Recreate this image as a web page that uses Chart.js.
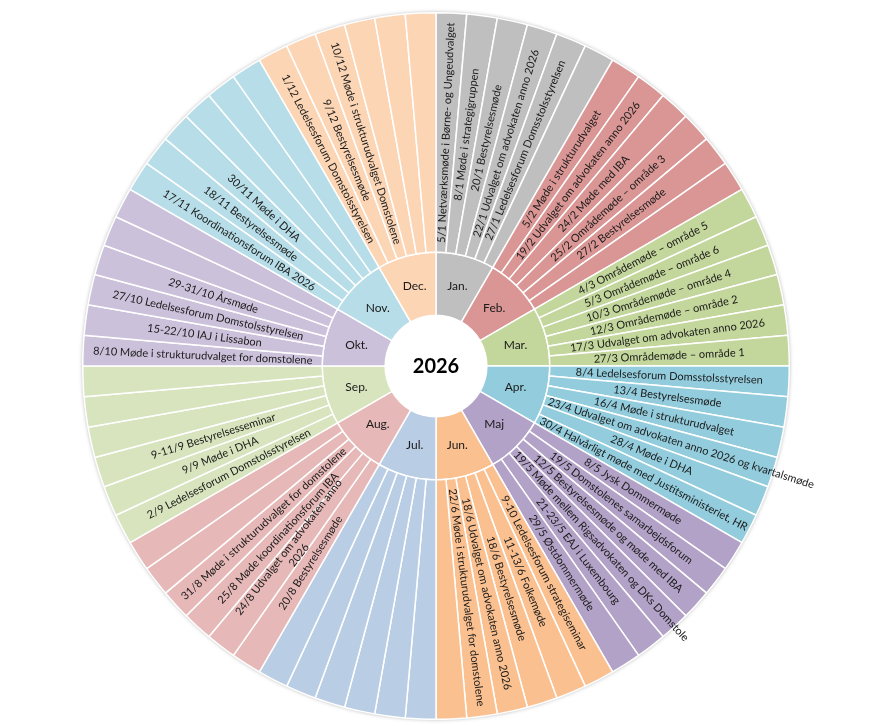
<!DOCTYPE html>
<html>
<head>
<meta charset="utf-8">
<script src="https://cdn.jsdelivr.net/npm/chart.js@4"></script>
<style>
  html, body { margin: 0; padding: 0; background: #fff; }
</style>
</head>
<body>
<canvas id="wheel" width="886" height="726"></canvas>
<script>
const year = '2026';
const months = ['Jan.', 'Feb.', 'Mar.', 'Apr.', 'Maj', 'Jun.', 'Jul.', 'Aug.', 'Sep.', 'Okt.', 'Nov.', 'Dec.'];
const monthColors = ['#bfbfbf', '#d99694', '#c3d69b', '#93cddd', '#b3a2c7', '#fac090',
                     '#b9cde5', '#e6b9b8', '#d7e4bd', '#ccc1da', '#b7dee8', '#fcd5b5'];

// six slots per month, empty string = empty slot
const jan = ['5/1 Netværksmøde i Børne- og Ungeudvalget', '8/1 Møde i strategigruppen', '20/1 Bestyrelsesmøde',
             '22/1 Udvalget om advokaten anno 2026', '27/1 Ledelsesforum Domsstolsstyrelsen', ''];
const feb = ['5/2 Møde i strukturudvalget', '19/2 Udvalget om advokaten anno 2026', '24/2 Møde med IBA',
             '25/2 Områdemøde – område 3', '27/2 Bestyrelsesmøde', ''];
const mar = ['4/3 Områdemøde – område 5', '5/3 Områdemøde – område 6', '10/3 Områdemøde – område 4',
             '12/3 Områdemøde – område 2', '17/3 Udvalget om advokaten anno 2026', '27/3 Områdemøde – område 1'];
const apr = ['8/4 Ledelsesforum Domsstolsstyrelsen', '13/4 Bestyrelsesmøde', '16/4 Møde i strukturudvalget',
             '23/4 Udvalget om advokaten anno 2026 og kvartalsmøde', '28/4 Møde i DHA',
             '30/4 Halvårligt møde med Justitsministeriet, HR'];
const maj = ['8/5 Jysk Dommermøde', '19/5 Domstolenes samarbejdsforum', '12/5 Bestyrelsesmøde og møde med IBA',
             '19/5 Møde mellem Rigsadvokaten og DKs Domstole', '21-23/5 EAJ i Luxembourg', '29/5 Østdommermøde'];
const jun = ['9-10 Ledelsesforum strategiseminar', '11-13/6 Folkemøde', '18/6 Bestyrelsesmøde',
             '18/6 Udvalget om advokaten anno 2026', '22/6 Møde i strukturudvalget for domstolene', ''];
const jul = ['', '', '', '', '', ''];
const aug = ['20/8 Bestyrelsesmøde', '24/8 Udvalget om advokaten anno\n2026', '25/8 Møde koordinationsforum IBA',
             '31/8 Møde i strukturudvalget for domstolene', '', ''];
const sep = ['2/9 Ledelsesforum Domstolsstyrelsen', '9/9 Møde i DHA', '9-11/9 Bestyrelsesseminar', '', '', ''];
const okt = ['8/10 Møde i strukturudvalget for domstolene', '15-22/10 IAJ i Lissabon',
             '27/10 Ledelsesforum Domstolsstyrelsen', '29-31/10 Årsmøde', '', ''];
const nov = ['17/11 Koordinationsforum IBA 2026', '18/11 Bestyrelsesmøde', '30/11 Møde i DHA', '', '', ''];
const dec = ['1/12 Ledelsesforum Domstolsstyrelsen', '9/12 Bestyrelsesmøde',
             '10/12 Møde i strukturudvalget Domstolene', '', '', ''];

const monthEvents = [jan, feb, mar, apr, maj, jun, jul, aug, sep, okt, nov, dec];
const events = monthEvents.flat();
const slotColors = monthEvents.flatMap((list, m) => list.map(() => monthColors[m]));
const slotsPerMonth = monthEvents.map(list => list.length);

const FONT = 'Lato, "Open Sans", sans-serif';

const wheelText = {
    id: 'wheelText',
    beforeDatasetsDraw(chart) {
        // soft grey edge round the wheel
        const first = chart.getDatasetMeta(0).data[0];
        const { x, y, outerRadius } = first.getProps(['x', 'y', 'outerRadius'], true);
        const ctx = chart.ctx;
        ctx.save();
        ctx.shadowColor = 'rgba(0,0,0,0.35)';
        ctx.shadowBlur = 4;
        ctx.fillStyle = '#fff';
        ctx.beginPath();
        ctx.arc(x, y, outerRadius, 0, Math.PI * 2);
        ctx.fill();
        ctx.restore();
    },
    afterDatasetsDraw(chart) {
        const ctx = chart.ctx;
        ctx.save();
        ctx.fillStyle = '#1a1a1a';
        ctx.textAlign = 'center';
        ctx.textBaseline = 'middle';

        // events, radial; long ones pushed out so they start at the ring edge
        ctx.font = '11px ' + FONT;
        chart.getDatasetMeta(0).data.forEach((arc, i) => {
            const text = events[i];
            if (!text) return;
            const p = arc.getProps(['x', 'y', 'startAngle', 'endAngle', 'innerRadius', 'outerRadius'], true);
            const lines = text.split('\n');
            const w = Math.max(...lines.map(l => ctx.measureText(l).width));
            const a = (p.startAngle + p.endAngle) / 2;
            const r = Math.max((p.innerRadius + p.outerRadius) / 2, p.innerRadius + 4 + w / 2);
            ctx.save();
            ctx.translate(p.x + r * Math.cos(a), p.y + r * Math.sin(a));
            ctx.rotate(Math.cos(a) >= 0 ? a : a + Math.PI);
            lines.forEach((line, k) => {
                ctx.fillText(line, 0, (k - (lines.length - 1) / 2) * 13);
            });
            ctx.restore();
        });

        // months, horizontal
        ctx.font = '12px ' + FONT;
        chart.getDatasetMeta(1).data.forEach((arc, i) => {
            const p = arc.getProps(['x', 'y', 'startAngle', 'endAngle', 'innerRadius', 'outerRadius'], true);
            const a = (p.startAngle + p.endAngle) / 2;
            const r = (p.innerRadius + p.outerRadius) / 2;
            ctx.fillText(months[i], p.x + r * Math.cos(a), p.y + r * Math.sin(a));
        });

        // year in the middle
        const c = chart.getDatasetMeta(1).data[0].getProps(['x', 'y'], true);
        ctx.font = 'bold 20px ' + FONT;
        ctx.fillStyle = '#000';
        ctx.fillText(year, c.x, c.y + 1);
        ctx.restore();
    }
};

new Chart(document.getElementById('wheel'), {
    type: 'doughnut',
    data: {
        labels: events,
        datasets: [{
            data: events.map(() => 1),
            backgroundColor: slotColors,
            borderColor: '#fff',
            borderWidth: 1.5,
            weight: 240
        }, {
            data: slotsPerMonth,
            backgroundColor: monthColors,
            borderColor: '#fff',
            borderWidth: 1.5,
            weight: 63
        }]
    },
    options: {
        responsive: false,
        animation: false,
        cutout: '14.4%',
        layout: { padding: { left: 0, right: 14, top: 12, bottom: 6 } },
        plugins: {
            legend: { display: false },
            tooltip: { enabled: false }
        }
    },
    plugins: [wheelText]
});
</script>
</body>
</html>
